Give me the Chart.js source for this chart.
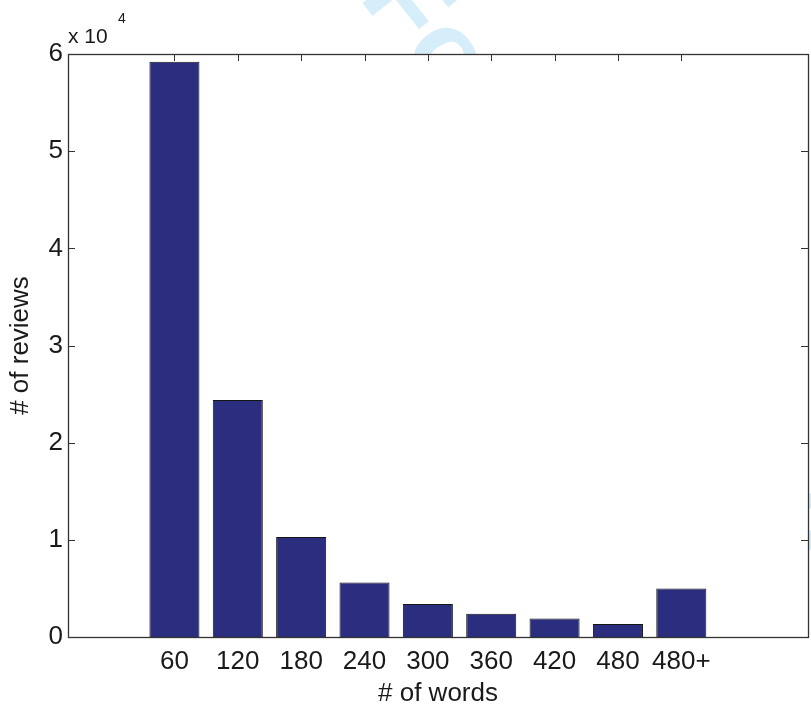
<!DOCTYPE html>
<html>
<head>
<meta charset="utf-8">
<script src="https://cdn.jsdelivr.net/npm/chart.js@4"></script>
<style>
    html, body { margin: 0; padding: 0; background: #fff; }
    #wrap { width: 811px; height: 709px; }
</style>
</head>
<body>
<div id="wrap"><canvas id="chart" width="811" height="709"></canvas></div>
<script>
// word count bins and number of reviews per bin
const wordBins = ['60', '120', '180', '240', '300', '360', '420', '480', '480+'];
const reviewCounts = [59200, 24400, 10300, 5600, 3400, 2400, 1900, 1350, 5000];
const yTicks = [0, 10000, 20000, 30000, 40000, 50000, 60000];

const FONT = "'Liberation Sans', Arial, Helvetica, sans-serif";
const AXIS_COLOR = '#333333';
const TICK_LEN = 7;

// MATLAB style box with inward tick marks on all four sides
const boxPlugin = {
    id: 'matlabBox',
    beforeDraw(chart) {
        const ctx = chart.ctx;
        const a = chart.chartArea;
        ctx.save();
        ctx.fillStyle = '#ffffff';
        ctx.fillRect(0, 0, chart.width, chart.height);
        // faint review watermark behind the axes
        ctx.translate(382, -22);
        ctx.rotate(51.5 * Math.PI / 180);
        ctx.font = 'bold 112px ' + FONT;
        ctx.fillStyle = '#d6eefa';
        ctx.textBaseline = 'middle';
        ctx.fillText('For Peer Review', 0, 0);
        ctx.restore();
        ctx.save();
        ctx.fillStyle = '#ffffff';
        ctx.fillRect(a.left, a.top, a.right - a.left, a.bottom - a.top);
        ctx.restore();
    },
    beforeDatasetsDraw(chart) {
        const ctx = chart.ctx;
        const a = chart.chartArea;
        const xs = chart.scales.x;
        const ys = chart.scales.y;
        ctx.save();
        ctx.strokeStyle = AXIS_COLOR;
        ctx.lineWidth = 1;
        ctx.beginPath();
        xs.ticks.forEach(t => {
            const px = Math.round(xs.getPixelForValue(t.value)) + 0.5;
            ctx.moveTo(px, a.top);
            ctx.lineTo(px, a.top + TICK_LEN);
            ctx.moveTo(px, a.bottom);
            ctx.lineTo(px, a.bottom - TICK_LEN);
        });
        ys.ticks.forEach(t => {
            const py = Math.round(ys.getPixelForValue(t.value)) + 0.5;
            ctx.moveTo(a.left, py);
            ctx.lineTo(a.left + TICK_LEN, py);
            ctx.moveTo(a.right, py);
            ctx.lineTo(a.right - TICK_LEN, py);
        });
        ctx.stroke();
        ctx.restore();
    },
    afterDatasetsDraw(chart) {
        const ctx = chart.ctx;
        const a = chart.chartArea;
        ctx.save();
        ctx.strokeStyle = AXIS_COLOR;
        ctx.lineWidth = 1.3;
        ctx.strokeRect(Math.round(a.left) + 0.5, Math.round(a.top) + 0.5,
            Math.round(a.right - a.left), Math.round(a.bottom - a.top));
        // exponent label
        ctx.fillStyle = '#1a1a1a';
        ctx.textBaseline = 'alphabetic';
        ctx.textAlign = 'left';
        ctx.font = '21px ' + FONT;
        ctx.fillText('x 10', a.left, a.top - 11);
        ctx.font = '14px ' + FONT;
        ctx.fillText('4', a.left + 50, a.top - 31);
        ctx.restore();
    }
};

new Chart(document.getElementById('chart'), {
    type: 'bar',
    data: {
        datasets: [{
            data: reviewCounts.map((v, i) => ({ x: i + 1, y: v })),
            backgroundColor: '#2b2d7e',
            borderColor: '#151515',
            borderWidth: 1,
            barPercentage: 0.79,
            categoryPercentage: 1
        }]
    },
    plugins: [boxPlugin],
    options: {
        responsive: false,
        animation: false,
        devicePixelRatio: 1,
        layout: { padding: { top: 54, right: 3, left: 0, bottom: 0 } },
        plugins: {
            legend: { display: false },
            tooltip: { enabled: false }
        },
        scales: {
            x: {
                type: 'linear',
                offset: false,
                min: -0.68,
                max: 11,
                grid: { display: false, drawTicks: false },
                border: { display: false },
                afterBuildTicks: scale => {
                    scale.ticks = wordBins.map((_, i) => ({ value: i + 1 }));
                },
                afterFit: scale => { scale.height = 72; },
                ticks: {
                    autoSkip: false,
                    maxRotation: 0,
                    padding: 9,
                    color: '#1a1a1a',
                    font: { family: FONT, size: 26 },
                    callback: v => wordBins[v - 1]
                },
                title: {
                    display: true,
                    text: '# of words',
                    color: '#1a1a1a',
                    font: { family: FONT, size: 26 },
                    padding: { top: 0, bottom: 0 }
                }
            },
            y: {
                min: 0,
                max: 60000,
                grid: { display: false, drawTicks: false },
                border: { display: false },
                afterBuildTicks: scale => {
                    scale.ticks = yTicks.map(v => ({ value: v }));
                },
                afterFit: scale => { scale.width = 68; },
                ticks: {
                    padding: 5,
                    color: '#1a1a1a',
                    font: { family: FONT, size: 26 },
                    callback: v => String(v / 10000)
                },
                title: {
                    display: true,
                    text: '# of reviews',
                    color: '#1a1a1a',
                    font: { family: FONT, size: 26 },
                    padding: { top: 5, bottom: 0 }
                }
            }
        }
    }
});
</script>
</body>
</html>
